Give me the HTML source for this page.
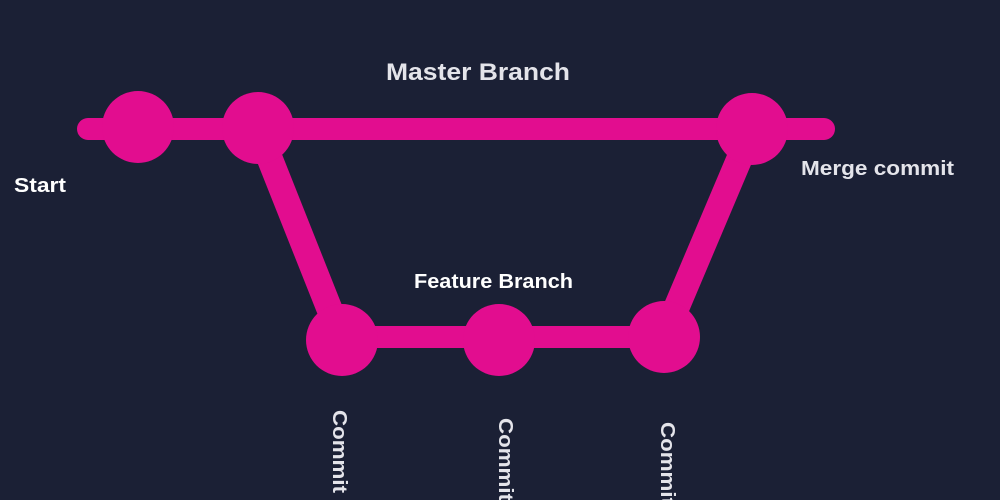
<!DOCTYPE html>
<html><head><style>
html,body{margin:0;padding:0;background:#1b2035;}
svg{display:block}
text{font-family:"Liberation Sans",sans-serif;font-weight:bold;}
</style></head><body>
<svg width="1000" height="500" viewBox="0 0 1000 500">
<rect width="1000" height="500" fill="#1b2035"/>
<g stroke="#e20d8f" stroke-linecap="round" fill="none">
<line x1="88" y1="129" x2="824" y2="129" stroke-width="22"/>
<line x1="342" y1="337" x2="664" y2="337" stroke-width="22"/>
<line x1="258" y1="129" x2="341" y2="338" stroke-width="26" stroke-linecap="butt"/>
<line x1="752" y1="129" x2="664" y2="337" stroke-width="26" stroke-linecap="butt"/>
</g>
<g fill="#e20d8f">
<circle cx="138" cy="127" r="36"/>
<circle cx="258" cy="128" r="36"/>
<circle cx="752" cy="129" r="36"/>
<circle cx="342" cy="340" r="36"/>
<circle cx="499" cy="340" r="36"/>
<circle cx="664" cy="337" r="36"/>
</g>
<text x="386" y="80" font-size="24" fill="#e4e4ea" textLength="184" lengthAdjust="spacingAndGlyphs">Master Branch</text>
<text x="14" y="192" font-size="20" fill="#ffffff" textLength="52" lengthAdjust="spacingAndGlyphs">Start</text>
<text x="801" y="175" font-size="20" fill="#e4e4ea" textLength="153" lengthAdjust="spacingAndGlyphs">Merge commit</text>
<text x="414" y="288" font-size="20" fill="#ffffff" textLength="159" lengthAdjust="spacingAndGlyphs">Feature Branch</text>
<text transform="translate(333,410) rotate(90)" font-size="20" fill="#e4e4ea" textLength="83" lengthAdjust="spacingAndGlyphs">Commit</text>
<text transform="translate(499,418) rotate(90)" font-size="20" fill="#e4e4ea" textLength="83" lengthAdjust="spacingAndGlyphs">Commit</text>
<text transform="translate(661,422) rotate(90)" font-size="20" fill="#e4e4ea" textLength="83" lengthAdjust="spacingAndGlyphs">Commit</text>
</svg>
</body></html>
